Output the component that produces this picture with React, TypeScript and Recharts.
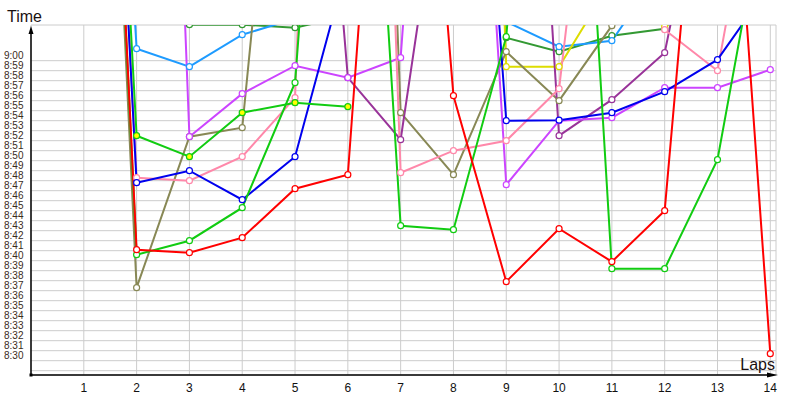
import React from 'react';
import { LineChart, Line, XAxis, YAxis, CartesianGrid } from 'recharts';

// lap times as minutes after 8:00 (values above ~63.5 run off the top of the chart)
const laps = [1, 2, 3, 4, 5, 6, 7, 8, 9, 10, 11, 12, 13, 14];
const timeTicks = [29, 30, 31, 32, 33, 34, 35, 36, 37, 38, 39, 40, 41, 42, 43, 44, 45, 46, 47, 48, 49, 50, 51, 52, 53, 54, 55, 56, 57, 58, 59, 60];

const red = [150, 41.1, 40.8, 42.3, 47.2, 48.6, 121, 56.5, 37.9, 43.2, 39.9, 45.0, 105, 30.7];
const green = [150, 40.6, 42.0, 45.3, 57.8, 128, 43.5, 43.1, 62.4, 127, 39.2, 39.2, 50.1, 79];
const greenYellow = [150, 52.5, 50.4, 54.8, 55.8, 55.4, null, null, null, null, null, null, null, null];
const darkGreen = [150, 64.5, 63.6, 63.6, 63.3, 64.5, 75, 110, 62.3, 60.9, 62.5, 63.2, 70, 75];
const lightBlue = [150, 61.2, 59.4, 62.6, 64.2, 70, 72, 72, 63.9, 61.4, 62.0, 69.6, 80, 80];
const blue = [150, 47.8, 49.0, 46.1, 50.4, 69.9, 100, 126.5, 54.0, 54.05, 54.8, 56.9, 60.1, 67.6];
const pink = [150, 48.3, 48.0, 50.4, 56.3, 197, 48.8, 51.0, 52.0, 57.2, 102, 63.1, 59.0, 88];
const violet = [150, 190, 52.4, 56.7, 59.5, 58.3, 60.3, 133, 47.6, 54.0, 54.3, 57.3, 57.3, 59.1];
const purple = [150, 140, 130, 125, 122, 58.3, 52.1, 87.7, 136.5, 52.5, 56.1, 60.8, 86.3, 100];
const olive = [150, 37.3, 52.4, 53.3, 107, 195, 54.8, 48.6, 60.9, 56.0, 63.5, 75, 80, 85];
const yellow = [150, 150, 150, 150, 150, 150, 150, 200, 59.4, 59.4, 68, 63.4, 75, 80];

const series = [
    { key: 'darkGreen', color: '#339933', values: darkGreen, dotFill: '#fff' },
    { key: 'lightBlue', color: '#1e9bff', values: lightBlue, dotFill: '#fff' },
    { key: 'yellow', color: '#dddd00', values: yellow, dotFill: '#fff' },
    { key: 'olive', color: '#888855', values: olive, dotFill: '#fff' },
    { key: 'purple', color: '#993399', values: purple, dotFill: '#fff' },
    { key: 'violet', color: '#cc44ff', values: violet, dotFill: '#fff' },
    { key: 'pink', color: '#ff88aa', values: pink, dotFill: '#fff' },
    { key: 'blue', color: '#0000ee', values: blue, dotFill: '#fff' },
    { key: 'green', color: '#11cc11', values: green, dotFill: '#fff' },
    { key: 'greenYellow', color: '#11cc11', values: greenYellow, dotFill: '#ffff00' },
    { key: 'red', color: '#ff0000', values: red, dotFill: '#fff' },
];

const chartData = laps.map((lap, i) => {
    const row: Record<string, number | null> = { lap };
    series.forEach(s => { row[s.key] = s.values[i]; });
    return row;
});

const FONT = "'Liberation Sans', Arial, sans-serif";

const fmtTime = (m: number) => (m >= 60 ? `9:${String(m - 60).padStart(2, '0')}` : `8:${String(m).padStart(2, '0')}`);

const YTick = ({ y, payload }: any) => {
    if (payload.value < 30) return <g />;
    return (
        <text x={4} y={y - 2} fontSize={10} fontFamily={FONT} fill="#3a2c1c">
            {fmtTime(payload.value)}
        </text>
    );
};

const XTick = ({ x, payload }: any) => (
    <text x={x} y={392} fontSize={12} fontFamily={FONT} fill="#111" textAnchor="middle">
        {payload.value}
    </text>
);

const App = () => {
    return (
        <div style={{ position: 'absolute', left: 0, top: 0, width: 800, height: 400, background: '#fff' }}>
            <LineChart width={800} height={400} data={chartData} margin={{ top: 25, right: 24, left: 0, bottom: 0 }}>
                <CartesianGrid stroke="#cccccc" strokeWidth={1} />
                <XAxis
                    dataKey="lap"
                    type="number"
                    domain={[0, 14.108]}
                    ticks={laps}
                    interval={0}
                    allowDataOverflow
                    height={25}
                    axisLine={false}
                    tickLine={false}
                    tick={<XTick />}
                />
                <YAxis
                    type="number"
                    domain={[28.57, 63.57]}
                    ticks={timeTicks}
                    interval={0}
                    allowDataOverflow
                    width={31}
                    axisLine={false}
                    tickLine={false}
                    tick={<YTick />}
                />
                {series.map(s => (
                    <Line
                        key={s.key}
                        dataKey={s.key}
                        type="linear"
                        stroke={s.color}
                        strokeWidth={2}
                        dot={{ r: 3, fill: s.dotFill, stroke: s.color, strokeWidth: 1.2 }}
                        activeDot={false}
                        isAnimationActive={false}
                    />
                ))}
            </LineChart>
            <svg width={800} height={400} style={{ position: 'absolute', left: 0, top: 0, pointerEvents: 'none' }}>
                <line x1={31} y1={375} x2={31} y2={32} stroke="#000" strokeWidth={1.5} />
                <polygon points="31,26 28.5,34 33.5,34" fill="#000" />
                <line x1={31} y1={375} x2={770} y2={375} stroke="#000" strokeWidth={1.5} />
                <polygon points="778,375 767,372.5 767,377.5" fill="#000" />
                <rect x={29.5} y={373.5} width={3} height={3} fill="#000" />
                <text x={7} y={22} fontSize={16} fontFamily={FONT} fill="#1a1010">Time</text>
                <text x={775} y={370} fontSize={16} fontFamily={FONT} fill="#1a1010" textAnchor="end">Laps</text>
            </svg>
        </div>
    );
};

export default App;
